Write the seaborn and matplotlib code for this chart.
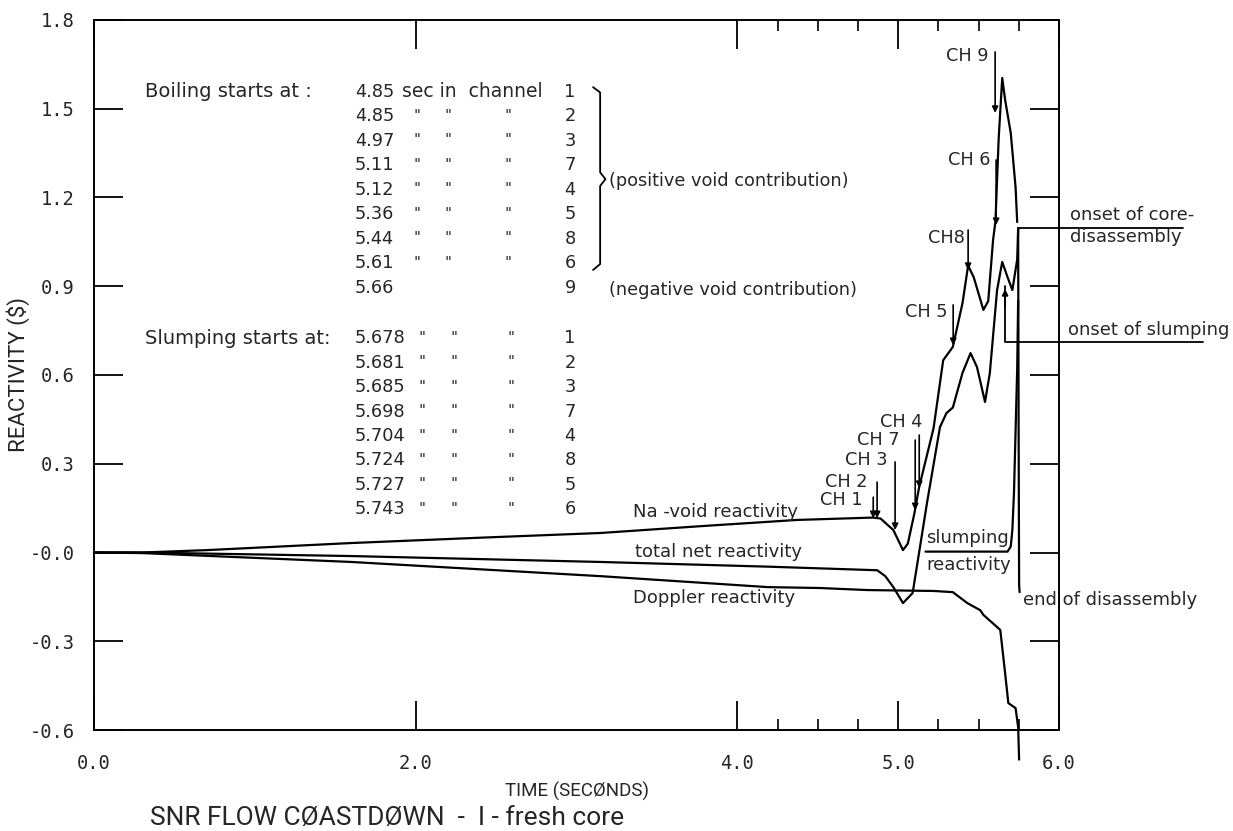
import matplotlib
matplotlib.use("Agg")
import matplotlib.pyplot as plt
import seaborn as sns
import pandas as pd

# ---------------- data ----------------
t_navoid = [0.0, 0.3, 0.7, 1.6, 2.4, 3.15, 3.8, 4.37, 4.84, 4.89, 4.97, 5.03, 5.06, 5.10, 5.13,
            5.22, 5.28, 5.34, 5.40, 5.435, 5.47, 5.53, 5.56, 5.59, 5.605, 5.625, 5.647, 5.665,
            5.70, 5.73, 5.74]
r_navoid = [0.0, 0.0, 0.008, 0.032, 0.05, 0.066, 0.09, 0.11, 0.118, 0.115, 0.076, 0.008, 0.03,
            0.13, 0.22, 0.42, 0.65, 0.695, 0.843, 0.97, 0.93, 0.82, 0.85, 1.056, 1.12, 1.40,
            1.604, 1.53, 1.418, 1.235, 1.117]

t_total = [0.0, 0.3, 1.6, 3.15, 4.2, 4.87, 4.92, 4.97, 5.03, 5.09, 5.18, 5.26, 5.30, 5.34, 5.40,
           5.45, 5.49, 5.54, 5.57, 5.615, 5.647, 5.68, 5.71, 5.74, 5.746, 5.749, 5.752, 5.755]
r_total = [0.0, 0.0, -0.012, -0.032, -0.048, -0.06, -0.08, -0.117, -0.171, -0.137, 0.17, 0.424,
           0.471, 0.49, 0.607, 0.674, 0.627, 0.509, 0.607, 0.887, 0.982, 0.931, 0.887, 0.99,
           1.097, 0.40, -0.11, -0.134]

t_doppler = [0.0, 0.3, 1.6, 3.15, 4.19, 4.51, 4.81, 5.22, 5.34, 5.43, 5.51, 5.53, 5.615, 5.635,
             5.665, 5.685, 5.73, 5.746, 5.752]
r_doppler = [0.0, -0.002, -0.032, -0.08, -0.117, -0.12, -0.127, -0.13, -0.134, -0.171, -0.195,
             -0.211, -0.252, -0.262, -0.408, -0.509, -0.526, -0.59, -0.70]

t_slump = [5.17, 5.68, 5.70, 5.71, 5.72, 5.74, 5.746]
r_slump = [0.003, 0.003, 0.02, 0.076, 0.2, 0.62, 0.85]

x_ticks = [0, 2, 4, 5, 6]
x_ticklabels = ["0.0", "2.0", "4.0", "5.0", "6.0"]
x_minor = [4.25, 4.5, 4.75, 5.25, 5.5, 5.75]
y_ticks = [1.8, 1.5, 1.2, 0.9, 0.6, 0.3, 0.0, -0.3, -0.6]
y_ticklabels = ["1.8", "1.5", "1.2", "0.9", "0.6", "0.3", "-0.0", "-0.3", "-0.6"]

boil_times = ["4.85", "4.85", "4.97", "5.11", "5.12", "5.36", "5.44", "5.61", "5.66"]
boil_channels = ["1", "2", "3", "7", "4", "5", "8", "6", "9"]
slump_times = ["5.678", "5.681", "5.685", "5.698", "5.704", "5.724", "5.727", "5.743"]
slump_channels = ["1", "2", "3", "7", "4", "8", "5", "6"]

ch_labels = ["CH 1", "CH 2", "CH 3", "CH 7", "CH 4", "CH 5", "CH8", "CH 6", "CH 9"]
ch_label_t = [4.782, 4.807, 4.932, 5.012, 5.149, 5.305, 5.417, 5.572, 5.560]
ch_label_r = [0.177, 0.238, 0.313, 0.380, 0.441, 0.813, 1.063, 1.327, 1.678]
ch_arrow_t = [4.845, 4.869, 4.981, 5.106, 5.131, 5.342, 5.435, 5.609, 5.603]
ch_arrow_top = [0.187, 0.238, 0.306, 0.380, 0.397, 0.837, 1.090, 1.327, 1.692]
ch_arrow_tip = [0.116, 0.116, 0.076, 0.143, 0.218, 0.701, 0.955, 1.107, 1.486]

# ---------------- style ----------------
sns.set_theme(style="white")
plt.rcParams['font.family'] = ['DejaVu Sans']
mono = ['DejaVu Sans Mono']
narrow = ['Roboto', 'DejaVu Sans']

W, H = 1233, 831
fig = plt.figure(figsize=(W / 100, H / 100), dpi=100)
ax = fig.add_axes([94 / W, 1 - 730 / H, (1059 - 94) / W, 710 / H])

lw = 1.6
series = [(t_navoid, r_navoid), (t_total, r_total), (t_doppler, r_doppler), (t_slump, r_slump)]
for tt, rr in series:
    df = pd.DataFrame({"t": tt, "r": rr})
    sns.lineplot(data=df, x="t", y="r", ax=ax, color="black", lw=lw, sort=False,
                 estimator=None)
for ln in ax.lines:
    ln.set_clip_on(False)

ax.set_xlim(0, 6)
ax.set_ylim(-0.6, 1.8)
ax.set_xticks(x_ticks)
ax.set_xticklabels(x_ticklabels, family=mono, fontsize=13.5)
ax.set_xticks(x_minor, minor=True)
ax.set_yticks(y_ticks)
ax.set_yticklabels(y_ticklabels, family=mono, fontsize=13.5)
ax.tick_params(axis="both", which="major", direction="in", length=21, width=1.3,
               color="black", top=True, right=True, bottom=True, left=True)
ax.tick_params(axis="x", which="major", pad=17)
ax.tick_params(axis="y", which="major", pad=14)
ax.tick_params(axis="x", which="minor", direction="in", length=8, width=1.2,
               color="black", top=True, bottom=True)
for sp in ax.spines.values():
    sp.set_color("black")
    sp.set_linewidth(1.4)
ax.set_xlabel("")
ax.set_ylabel("")

fig.text(577 / W, 1 - 791 / H, "TIME (SECØNDS)", ha="center", va="center",
         family=narrow, fontsize=13.5)
fig.text(18 / W, 1 - 375 / H, "REACTIVITY ($)", ha="center", va="center",
         rotation=90, family=narrow, fontsize=16)
fig.text(150 / W, 1 - 818 / H, "SNR FLOW CØASTDØWN  -  I - fresh core", ha="left",
         va="center", family=narrow, fontsize=19)

# ---------------- table of events ----------------
fs = 12.8
hfs = 14
row_step = 0.0828
v0 = 1.557
ax.text(0.317, v0, "Boiling starts at :", fontsize=hfs, va="center", ha="left")
for i, (tm, ch) in enumerate(zip(boil_times, boil_channels)):
    v = v0 - i * row_step
    ax.text(1.623, v, tm, fontsize=fs, va="center", ha="left")
    if i == 0:
        ax.text(1.915, v, "sec in  channel", fontsize=13.5, va="center", ha="left")
    elif i < len(boil_times) - 1:
        for tc in (2.009, 2.201, 2.575):
            ax.text(tc, v, '"', fontsize=fs - 2, va="center", ha="center")
    ax.text(2.96, v, ch, fontsize=fs, va="center", ha="center")

ax.text(3.20, 1.256, "(positive void contribution)", fontsize=fs, va="center", ha="left")
ax.text(3.20, 0.887, "(negative void contribution)", fontsize=fs, va="center", ha="left")
# brace
bx = [3.103, 3.147, 3.147, 3.180, 3.147, 3.147, 3.103]
by = [1.573, 1.555, 1.285, 1.262, 1.239, 0.975, 0.955]
ax.plot(bx, by, color="black", lw=1.3, clip_on=False)

v1 = 0.725
ax.text(0.317, v1, "Slumping starts at:", fontsize=hfs, va="center", ha="left")
for i, (tm, ch) in enumerate(zip(slump_times, slump_channels)):
    v = v1 - i * row_step
    ax.text(1.623, v, tm, fontsize=fs, va="center", ha="left")
    for tc in (2.04, 2.24, 2.59):
        ax.text(tc, v, '"', fontsize=fs - 2, va="center", ha="center")
    ax.text(2.96, v, ch, fontsize=fs, va="center", ha="center")

# ---------------- curve labels ----------------
cfs = 13
ax.text(3.352, 0.137, "Na -void reactivity", fontsize=cfs, va="center", ha="left")
ax.text(3.364, 0.002, "total net reactivity", fontsize=cfs, va="center", ha="left")
ax.text(3.352, -0.154, "Doppler reactivity", fontsize=cfs, va="center", ha="left")
ax.text(5.174, 0.049, "slumping", fontsize=cfs, va="center", ha="left")
ax.text(5.174, -0.042, "reactivity", fontsize=cfs, va="center", ha="left")
ax.text(6.070, 1.141, "onset of core-", fontsize=cfs, va="center", ha="left", clip_on=False)
ax.text(6.070, 1.066, "disassembly", fontsize=cfs, va="center", ha="left", clip_on=False)
ax.text(6.057, 0.752, "onset of slumping", fontsize=cfs, va="center", ha="left", clip_on=False)
ax.text(5.777, -0.161, "end of disassembly", fontsize=cfs, va="center", ha="left", clip_on=False)

ax.plot([5.746, 6.772], [1.097, 1.097], color="black", lw=1.3, clip_on=False)
ax.plot([6.897, 5.665, 5.665], [0.711, 0.711, 0.90], color="black", lw=1.3, clip_on=False)
ax.annotate("", xy=(5.665, 0.90), xytext=(5.665, 0.82),
            arrowprops=dict(arrowstyle="-|>", color="black", lw=1.2, mutation_scale=9))

# ---------------- channel arrows ----------------
for lab, lt, lr, at, atop, atip in zip(ch_labels, ch_label_t, ch_label_r, ch_arrow_t,
                                       ch_arrow_top, ch_arrow_tip):
    ax.text(lt, lr, lab, fontsize=12.8, va="center", ha="right")
    ax.annotate("", xy=(at, atip), xytext=(at, atop),
                arrowprops=dict(arrowstyle="-|>", color="black", lw=1.2, mutation_scale=9,
                                shrinkA=0, shrinkB=0))

fig.savefig("out.png", dpi=100)
